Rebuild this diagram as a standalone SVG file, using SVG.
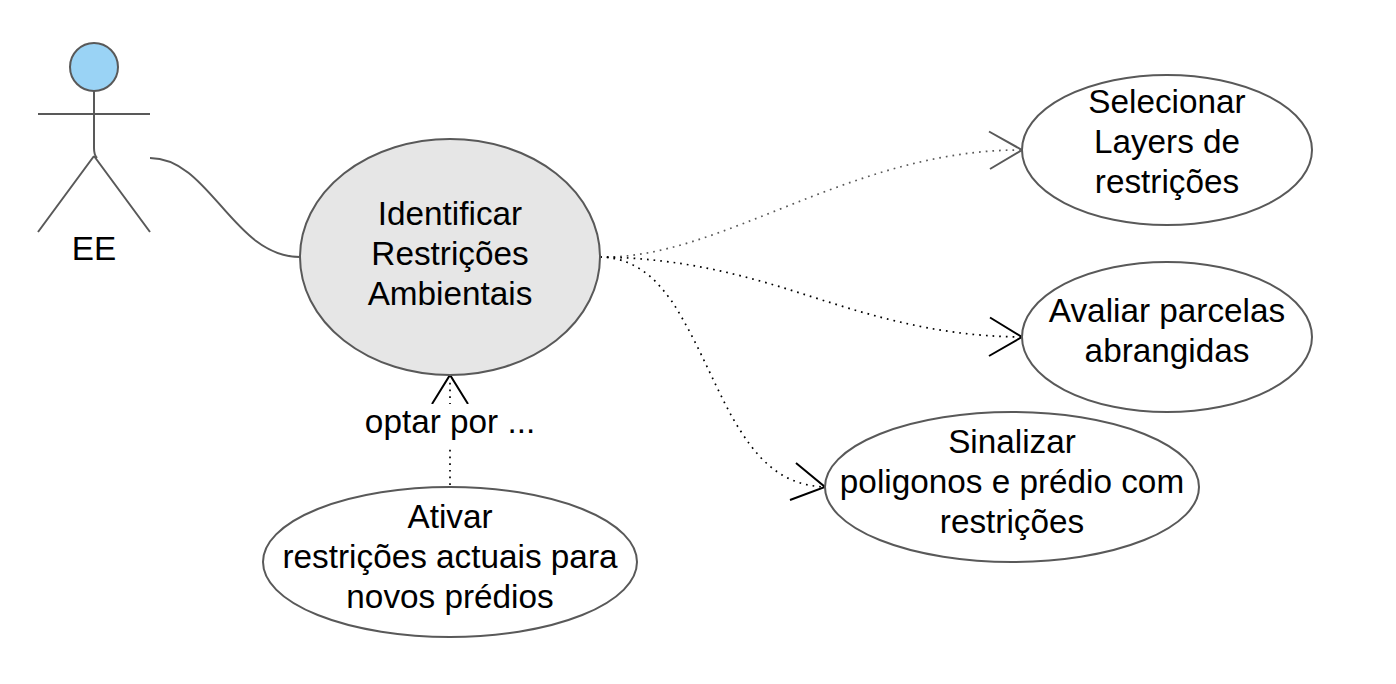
<svg xmlns="http://www.w3.org/2000/svg" width="1396" height="684" viewBox="0 0 1396 684">
<style>
text{font-family:"Liberation Sans",Arial,sans-serif;font-size:33.3px;fill:#000;text-anchor:middle}
.n{fill:#fff;stroke:#595959;stroke-width:2}
.a{fill:none;stroke:#595959;stroke-width:2}
.d{fill:none;stroke:#000;stroke-width:1.7;stroke-dasharray:1.7 5;}
.g{stroke:#595959}
.h{fill:none;stroke:#000;stroke-width:2}
.h.g{stroke:#595959}
</style>
<rect width="1396" height="684" fill="#fff"/>
<g id="connectors">
<path class="a" d="M150 158C210 158 233 257 300 257"/>
<path class="d g" d="M600 257C720 260 850 150 1020 150"/>
<path class="h g" d="M989 131.500L1022 150L990 169"/>
<path class="d" d="M600 257C680 258 740 274 800 293C860 312 930 336 1020 337"/>
<path class="h" d="M990 317.500L1022 337L989 356"/>
<path class="d" d="M600 257C640 258 660 285 673 303C700 345 720 400 740 430C765 470 790 485 824 487"/>
<path class="h" d="M796 463L825 487L790 500"/>
<path class="d" d="M450 485V378"/>
<path class="h" d="M432 404L450 375L468 404"/>
<rect x="362" y="404" width="176" height="42" fill="#fff"/>
<text x="450" y="432.500">optar por ...</text>
</g>
<g id="actor-ee">
<circle cx="94" cy="67" r="24" fill="#9ad3f5" stroke="#595959" stroke-width="2"/>
<path class="a" d="M94 91V148Q94 155 97 158M38 114H150M94 156L38 232M94 156L150 232"/>
<text x="94" y="260">EE</text>
</g>
<g id="identificar">
<ellipse cx="450" cy="257" rx="150" ry="118" fill="#e6e6e6" stroke="#595959" stroke-width="2"/>
<text x="450" y="225">Identificar</text>
<text x="450" y="265">Restrições</text>
<text x="450" y="305">Ambientais</text>
</g>
<g id="selecionar">
<ellipse class="n" cx="1167" cy="150" rx="145" ry="75"/>
<text x="1167" y="113">Selecionar</text>
<text x="1167" y="153">Layers de</text>
<text x="1167" y="193">restrições</text>
</g>
<g id="avaliar">
<ellipse class="n" cx="1167" cy="337" rx="145" ry="75"/>
<text x="1167" y="322">Avaliar parcelas</text>
<text x="1167" y="362">abrangidas</text>
</g>
<g id="sinalizar">
<ellipse class="n" cx="1012" cy="487" rx="187" ry="75"/>
<text x="1012" y="453">Sinalizar</text>
<text x="1012" y="493">poligonos e prédio com</text>
<text x="1012" y="533">restrições</text>
</g>
<g id="ativar">
<ellipse class="n" cx="450" cy="562" rx="187" ry="75"/>
<text x="450" y="528">Ativar</text>
<text x="450" y="568">restrições actuais para</text>
<text x="450" y="608">novos prédios</text>
</g>
</svg>
